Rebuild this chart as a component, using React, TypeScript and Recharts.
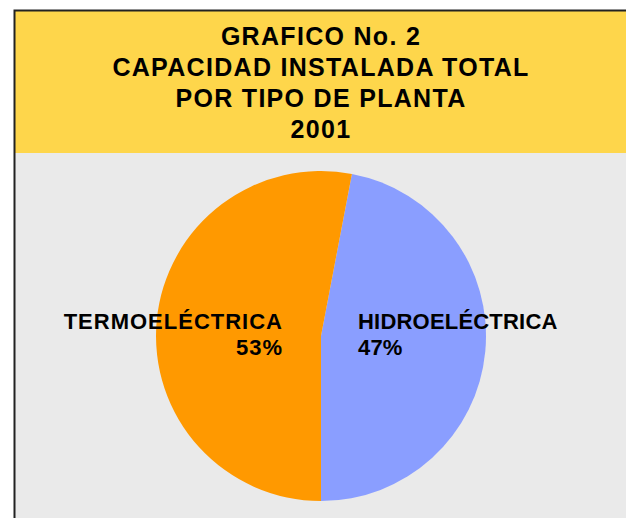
import { PieChart, Pie, Cell } from 'recharts'

const TITLE_LINES = ['GRAFICO No. 2', 'CAPACIDAD INSTALADA TOTAL', 'POR TIPO DE PLANTA', '2001']
const PLANTS = ['HIDROELÉCTRICA', 'TERMOELÉCTRICA']
const SHARES = [47, 53]
const COLORS = ['#8A9EFF', '#FF9900']

const FONT = '"Liberation Sans", Arial, Helvetica, sans-serif'

const data = PLANTS.map((name, i) => ({ name, value: SHARES[i] }))

const renderLabel = ({ cx, cy, midAngle, name, percent }: any) => {
  const right = Math.cos((-midAngle * Math.PI) / 180) > 0
  const x = right ? cx + 37 : cx - 38
  const anchor = right ? 'start' : 'end'
  return (
    <text
      x={x}
      y={cy - 7}
      textAnchor={anchor}
      fill="#000"
      fontFamily={FONT}
      fontWeight={700}
      fontSize={22}
      letterSpacing={right ? 0.2 : 1}
    >
      <tspan x={x} dy={0}>{name}</tspan>
      <tspan x={x} dy={26}>{`${Math.round(percent * 100)}%`}</tspan>
    </text>
  )
}

export default function App() {
  return (
    <div style={{ position: 'absolute', left: 0, top: 0, width: 626, height: 518, overflow: 'hidden', background: '#fff' }}>
      <svg width={626} height={518} style={{ position: 'absolute', left: 0, top: 0 }}>
        <rect x={14} y={11} width={700} height={600} fill="#EAEAEA" />
        <rect x={14} y={11} width={700} height={142} fill="#FED64B" />
        <path d="M14.5,600 L14.5,10.5 L700,10.5" fill="none" stroke="#222" strokeWidth={2} />
        {TITLE_LINES.map((t, i) => (
          <text
            key={i}
            x={321}
            y={45 + i * 31}
            textAnchor="middle"
            fontFamily={FONT}
            fontWeight={700}
            fontSize={25}
            letterSpacing={1.3}
            fill="#000"
          >
            {t}
          </text>
        ))}
      </svg>
      <div style={{ position: 'absolute', left: 0, top: 0 }}>
        <PieChart width={626} height={518} margin={{ top: 0, right: 0, bottom: 0, left: 0 }}>
          <Pie
            data={data}
            dataKey="value"
            nameKey="name"
            cx={321}
            cy={336}
            outerRadius={165}
            startAngle={79.2}
            endAngle={-280.8}
            stroke="none"
            label={renderLabel}
            labelLine={false}
            isAnimationActive={false}
          >
            {data.map((_, i) => (
              <Cell key={i} fill={COLORS[i]} />
            ))}
          </Pie>
        </PieChart>
      </div>
    </div>
  )
}
